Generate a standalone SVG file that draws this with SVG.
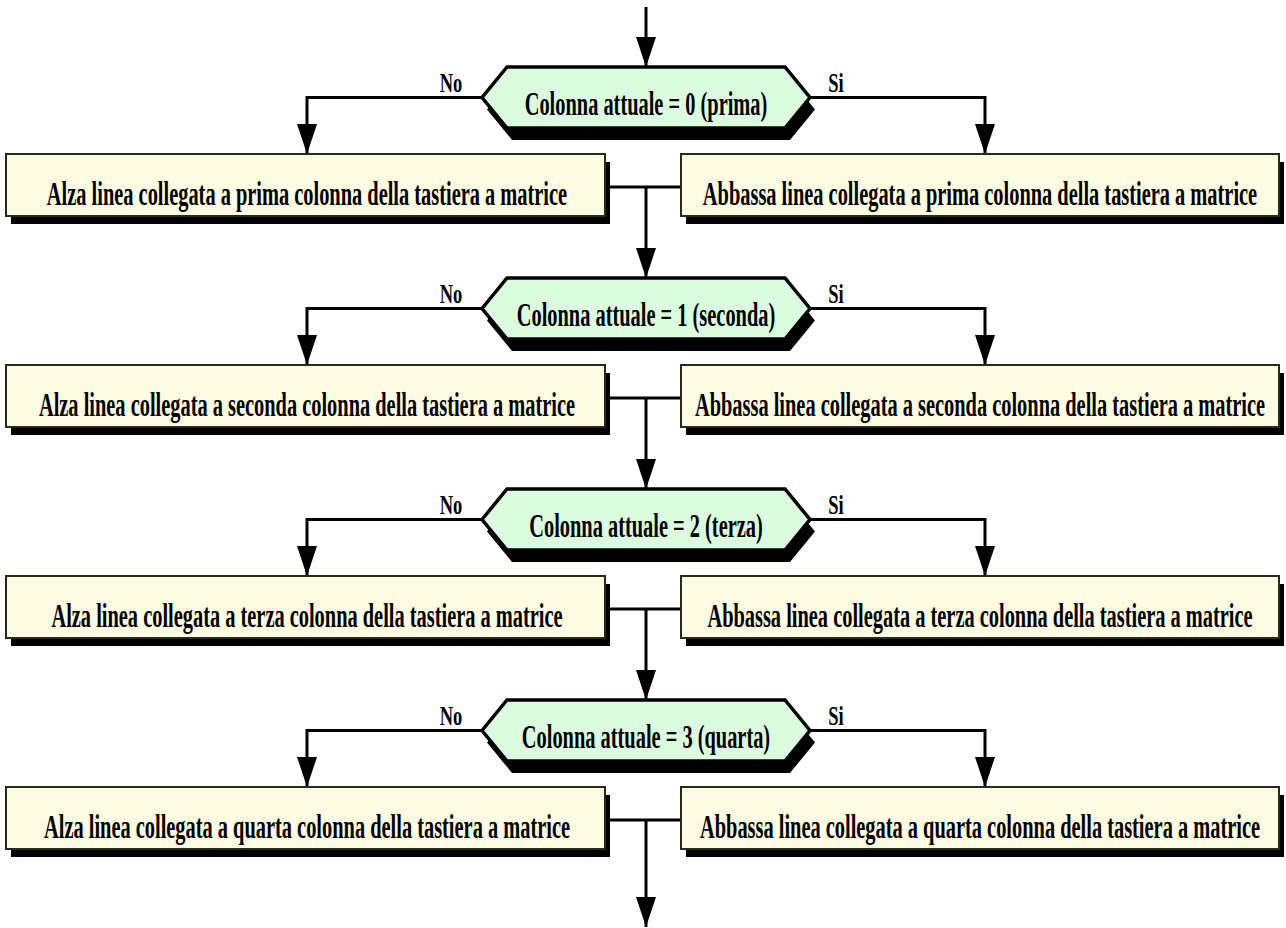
<svg xmlns="http://www.w3.org/2000/svg" width="1286" height="928" viewBox="0 0 1286 928">
  <style>
    .hex { fill: #dcfce0; stroke: #000; stroke-width: 3.5; stroke-linejoin: miter; }
    .box { fill: #fdfbe1; stroke: #2a2a1a; stroke-width: 2; }
    .shadow { fill: #000; stroke: none; }
    .wire { fill: none; stroke: #000; stroke-width: 3; }
    .lbl { font-family: "Liberation Serif", "Times New Roman", serif; font-weight: bold; font-size: 34px; fill: #000; text-anchor: middle; }
    .yn { font-family: "Liberation Serif", "Times New Roman", serif; font-weight: bold; font-size: 28px; fill: #000; text-anchor: middle; }
  </style>
  <defs>
    <marker id="arrow" markerUnits="userSpaceOnUse" markerWidth="30" markerHeight="20" refX="30" refY="10" viewBox="0 0 30 20" orient="auto">
      <polygon points="0,0 30,10 0,20" fill="#000"/>
    </marker>
    <polygon id="hexShape" points="482,97.5 507,67 785,67 810,97.5 785,128 507,128"/>
  </defs>

  <rect width="1286" height="928" fill="#fff"/>

  <!-- connectors -->
  <g id="connectors">
    <path class="wire" d="M646,7 V67" marker-end="url(#arrow)"/>
    <!-- level 0 -->
    <path class="wire" d="M482,97.5 H307 V154" marker-end="url(#arrow)"/>
    <path class="wire" d="M810,97.5 H985 V154" marker-end="url(#arrow)"/>
    <path class="wire" d="M606,187 H680"/>
    <path class="wire" d="M646,187 V278" marker-end="url(#arrow)"/>
    <!-- level 1 -->
    <path class="wire" d="M482,308.5 H307 V365" marker-end="url(#arrow)"/>
    <path class="wire" d="M810,308.5 H985 V365" marker-end="url(#arrow)"/>
    <path class="wire" d="M606,398 H680"/>
    <path class="wire" d="M646,398 V489" marker-end="url(#arrow)"/>
    <!-- level 2 -->
    <path class="wire" d="M482,519.5 H307 V576" marker-end="url(#arrow)"/>
    <path class="wire" d="M810,519.5 H985 V576" marker-end="url(#arrow)"/>
    <path class="wire" d="M606,609 H680"/>
    <path class="wire" d="M646,609 V700" marker-end="url(#arrow)"/>
    <!-- level 3 -->
    <path class="wire" d="M482,730.5 H307 V787" marker-end="url(#arrow)"/>
    <path class="wire" d="M810,730.5 H985 V787" marker-end="url(#arrow)"/>
    <path class="wire" d="M606,820 H680"/>
    <path class="wire" d="M646,820 V927" marker-end="url(#arrow)"/>
  </g>

  <!-- level 0 -->
  <g id="dec0">
    <use href="#hexShape" class="shadow" transform="translate(5,12)"/>
    <use href="#hexShape" class="hex"/>
    <text class="lbl" transform="translate(646,115) scale(0.6,1)">Colonna attuale = 0 (prima)</text>
    <text class="yn" transform="translate(451,92) scale(0.66,1)">No</text>
    <text class="yn" transform="translate(836,92) scale(0.66,1)">Si</text>
  </g>
  <g id="no0">
    <rect class="shadow" x="11" y="162" width="599" height="62"/>
    <rect class="box" x="6" y="154" width="599" height="62"/>
    <text class="lbl" transform="translate(307,205) scale(0.6,1)">Alza linea collegata a prima colonna della tastiera a matrice</text>
  </g>
  <g id="si0">
    <rect class="shadow" x="686" y="162" width="598" height="62"/>
    <rect class="box" x="681" y="154" width="598" height="62"/>
    <text class="lbl" transform="translate(980,205) scale(0.6,1)">Abbassa linea collegata a prima colonna della tastiera a matrice</text>
  </g>

  <!-- level 1 -->
  <g id="dec1" transform="translate(0,211)">
    <use href="#hexShape" class="shadow" transform="translate(5,12)"/>
    <use href="#hexShape" class="hex"/>
    <text class="lbl" transform="translate(646,115) scale(0.6,1)">Colonna attuale = 1 (seconda)</text>
    <text class="yn" transform="translate(451,92) scale(0.66,1)">No</text>
    <text class="yn" transform="translate(836,92) scale(0.66,1)">Si</text>
  </g>
  <g id="no1" transform="translate(0,211)">
    <rect class="shadow" x="11" y="162" width="599" height="62"/>
    <rect class="box" x="6" y="154" width="599" height="62"/>
    <text class="lbl" transform="translate(307,205) scale(0.6,1)">Alza linea collegata a seconda colonna della tastiera a matrice</text>
  </g>
  <g id="si1" transform="translate(0,211)">
    <rect class="shadow" x="686" y="162" width="598" height="62"/>
    <rect class="box" x="681" y="154" width="598" height="62"/>
    <text class="lbl" transform="translate(980,205) scale(0.6,1)">Abbassa linea collegata a seconda colonna della tastiera a matrice</text>
  </g>

  <!-- level 2 -->
  <g id="dec2" transform="translate(0,422)">
    <use href="#hexShape" class="shadow" transform="translate(5,12)"/>
    <use href="#hexShape" class="hex"/>
    <text class="lbl" transform="translate(646,115) scale(0.6,1)">Colonna attuale = 2 (terza)</text>
    <text class="yn" transform="translate(451,92) scale(0.66,1)">No</text>
    <text class="yn" transform="translate(836,92) scale(0.66,1)">Si</text>
  </g>
  <g id="no2" transform="translate(0,422)">
    <rect class="shadow" x="11" y="162" width="599" height="62"/>
    <rect class="box" x="6" y="154" width="599" height="62"/>
    <text class="lbl" transform="translate(307,205) scale(0.6,1)">Alza linea collegata a terza colonna della tastiera a matrice</text>
  </g>
  <g id="si2" transform="translate(0,422)">
    <rect class="shadow" x="686" y="162" width="598" height="62"/>
    <rect class="box" x="681" y="154" width="598" height="62"/>
    <text class="lbl" transform="translate(980,205) scale(0.6,1)">Abbassa linea collegata a terza colonna della tastiera a matrice</text>
  </g>

  <!-- level 3 -->
  <g id="dec3" transform="translate(0,633)">
    <use href="#hexShape" class="shadow" transform="translate(5,12)"/>
    <use href="#hexShape" class="hex"/>
    <text class="lbl" transform="translate(646,115) scale(0.6,1)">Colonna attuale = 3 (quarta)</text>
    <text class="yn" transform="translate(451,92) scale(0.66,1)">No</text>
    <text class="yn" transform="translate(836,92) scale(0.66,1)">Si</text>
  </g>
  <g id="no3" transform="translate(0,633)">
    <rect class="shadow" x="11" y="162" width="599" height="62"/>
    <rect class="box" x="6" y="154" width="599" height="62"/>
    <text class="lbl" transform="translate(307,205) scale(0.6,1)">Alza linea collegata a quarta colonna della tastiera a matrice</text>
  </g>
  <g id="si3" transform="translate(0,633)">
    <rect class="shadow" x="686" y="162" width="598" height="62"/>
    <rect class="box" x="681" y="154" width="598" height="62"/>
    <text class="lbl" transform="translate(980,205) scale(0.6,1)">Abbassa linea collegata a quarta colonna della tastiera a matrice</text>
  </g>
</svg>
